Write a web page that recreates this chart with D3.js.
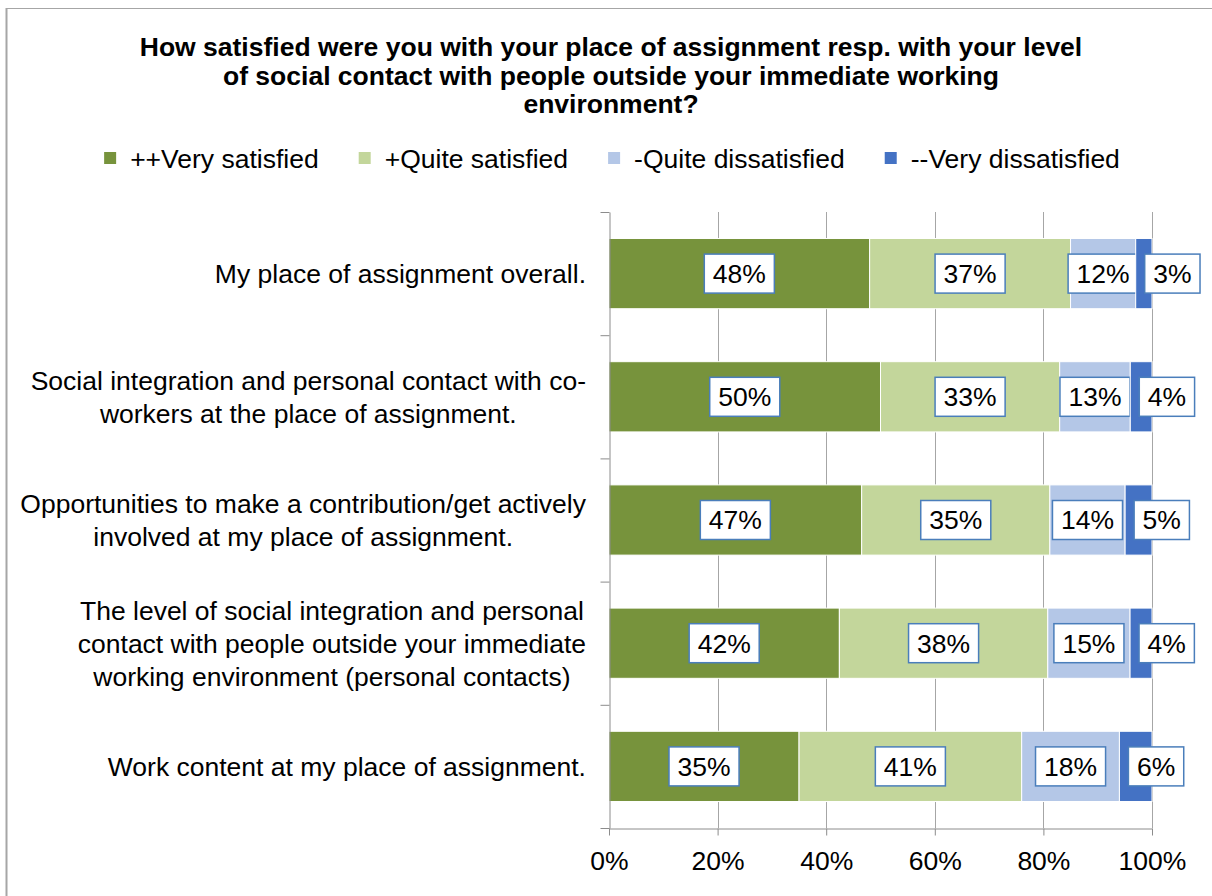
<!DOCTYPE html>
<html>
<head>
<meta charset="utf-8">
<script src="https://cdn.jsdelivr.net/npm/d3@7"></script>
<style>
  html, body { margin: 0; padding: 0; background: #fff; }
  svg { display: block; font-family: "Liberation Sans", Arial, sans-serif; }
</style>
</head>
<body>
<svg id="chart" width="1212" height="896"></svg>
<script>
// Survey items (one entry per bar, split into display lines)
const categories = [
  ["My place of assignment overall."],
  ["Social integration and personal contact with co-", "workers at the place of assignment."],
  ["Opportunities to make a contribution/get actively", "involved at my place of assignment."],
  ["The level of social integration and personal", "contact with people outside your immediate", "working environment (personal contacts)"],
  ["Work content at my place of assignment."]
];

// Answer shares in percent, one array per answer option
const verySatisfied     = [48, 50, 47, 42, 35];
const quiteSatisfied    = [37, 33, 35, 38, 41];
const quiteDissatisfied = [12, 13, 14, 15, 18];
const veryDissatisfied  = [3, 4, 5, 4, 6];

const seriesNames = ["++Very satisfied", "+Quite satisfied", "-Quite dissatisfied", "--Very dissatisfied"];
const seriesColors = ["#77933C", "#C3D69B", "#B4C7E7", "#4472C4"];
const tickValues = [0, 0.2, 0.4, 0.6, 0.8, 1];

const titleLines = [
  "How satisfied were you with your place of assignment resp. with your level",
  "of social contact with people outside your immediate working",
  "environment?"
];

const FONT = 26.5;
const svg = d3.select("#chart");

// outer frame (left and top edges visible)
svg.append("line").attr("x1", 6.5).attr("x2", 6.5).attr("y1", 8).attr("y2", 896)
  .attr("stroke", "#a6a6a6").attr("stroke-width", 2);
svg.append("line").attr("x1", 6).attr("x2", 1212).attr("y1", 8.5).attr("y2", 8.5)
  .attr("stroke", "#a6a6a6").attr("stroke-width", 1);

// title
svg.append("g").selectAll("text").data(titleLines).join("text")
  .attr("x", 611).attr("y", (d, i) => 56 + i * 28.5)
  .attr("text-anchor", "middle").attr("font-weight", "bold")
  .attr("font-size", FONT).attr("fill", "#000").text(d => d);

// table rows for stacking
const rows = categories.map((c, i) => ({
  idx: i,
  [seriesNames[0]]: verySatisfied[i],
  [seriesNames[1]]: quiteSatisfied[i],
  [seriesNames[2]]: quiteDissatisfied[i],
  [seriesNames[3]]: veryDissatisfied[i]
}));
const stacked = d3.stack().keys(seriesNames).offset(d3.stackOffsetExpand)(rows);

const x = d3.scaleLinear().domain([0, 1]).range([609, 1152]);
const y = d3.scaleBand().domain(d3.range(categories.length)).range([212, 828])
  .paddingInner(0.43).paddingOuter(0.215);
const yEdges = d3.scaleLinear().domain([0, categories.length]).range([212, 828]);

// vertical gridlines
svg.append("g").selectAll("line").data(tickValues.slice(1)).join("line")
  .attr("x1", d => Math.round(x(d)) + 0.5).attr("x2", d => Math.round(x(d)) + 0.5)
  .attr("y1", 212).attr("y2", 828)
  .attr("stroke", "#a6a6a6").attr("stroke-width", 1);

// bars
const layers = svg.append("g").selectAll("g").data(stacked).join("g")
  .attr("fill", (d, i) => seriesColors[i]);
layers.selectAll("rect").data(d => d).join("rect")
  .attr("x", d => x(d[0]))
  .attr("y", d => y(d.data.idx))
  .attr("width", d => x(d[1]) - x(d[0]))
  .attr("height", y.bandwidth())
  .attr("stroke", "#fff").attr("stroke-width", 1);

// x axis
const xAxis = svg.append("g").attr("transform", "translate(0,828.5)")
  .call(d3.axisBottom(x).tickValues(tickValues).tickFormat(d3.format(".0%"))
    .tickSize(7).tickSizeOuter(0).tickPadding(15.5));
xAxis.select(".domain").attr("stroke", "#8c8c8c");
xAxis.selectAll(".tick line").attr("stroke", "#8c8c8c");
xAxis.selectAll(".tick text").attr("font-size", FONT).attr("fill", "#000")
  .attr("font-family", "Liberation Sans, Arial, sans-serif");

// y axis with ticks between categories
const yAxis = svg.append("g").attr("transform", "translate(609.5,0)")
  .call(d3.axisLeft(yEdges).tickValues(d3.range(categories.length + 1))
    .tickFormat("").tickSize(9).tickSizeOuter(0));
yAxis.select(".domain").attr("stroke", "#8c8c8c");
yAxis.selectAll(".tick line").attr("stroke", "#8c8c8c");

// category labels: lines centred within a right-aligned block
const catG = svg.append("g").selectAll("g").data(categories).join("g");
catG.each(function (lines, i) {
  const g = d3.select(this);
  const lh = 33;
  const cy = y(i) + y.bandwidth() / 2;
  const texts = g.selectAll("text").data(lines).join("text")
    .attr("font-size", FONT).attr("fill", "#000")
    .attr("text-anchor", "middle")
    .attr("y", (d, j) => cy + (j - (lines.length - 1) / 2) * lh + 9.4)
    .text(d => d);
  let maxW = 0;
  texts.each(function () { maxW = Math.max(maxW, this.getComputedTextLength()); });
  texts.attr("x", 586 - maxW / 2);
});

// value labels in boxes
const lastKey = seriesNames[seriesNames.length - 1];
layers.each(function (layer) {
  const g = d3.select(this);
  const isLast = layer.key === lastKey;
  layer.forEach(d => {
    const value = d.data[layer.key];
    const lg = g.append("g");
    const t = lg.append("text")
      .attr("font-size", FONT).attr("fill", "#000").attr("text-anchor", "middle")
      .text(value + "%");
    const w = t.node().getComputedTextLength() + 17;
    const h = 39;
    const cx = isLast ? x(d[0]) + 9 + w / 2 : (x(d[0]) + x(d[1])) / 2;
    const cy = y(d.data.idx) + y.bandwidth() / 2;
    lg.insert("rect", "text")
      .attr("x", cx - w / 2).attr("y", cy - h / 2)
      .attr("width", w).attr("height", h)
      .attr("fill", "#fff").attr("stroke", "#4A7EBB").attr("stroke-width", 1.5);
    t.attr("x", cx).attr("y", cy + 9.4);
  });
});

// legend
const legend = svg.append("g");
let lx = 0;
seriesNames.forEach((name, i) => {
  const item = legend.append("g").attr("transform", `translate(${lx},0)`);
  item.append("rect").attr("x", 0).attr("y", 152).attr("width", 12).attr("height", 12)
    .attr("fill", seriesColors[i]);
  const t = item.append("text").attr("x", 26).attr("y", 167.5)
    .attr("font-size", FONT).attr("fill", "#000").text(name);
  lx += 26 + t.node().getComputedTextLength() + 40;
});
const legendW = lx - 40;
legend.attr("transform", `translate(${612 - legendW / 2},0)`);
</script>
</body>
</html>
